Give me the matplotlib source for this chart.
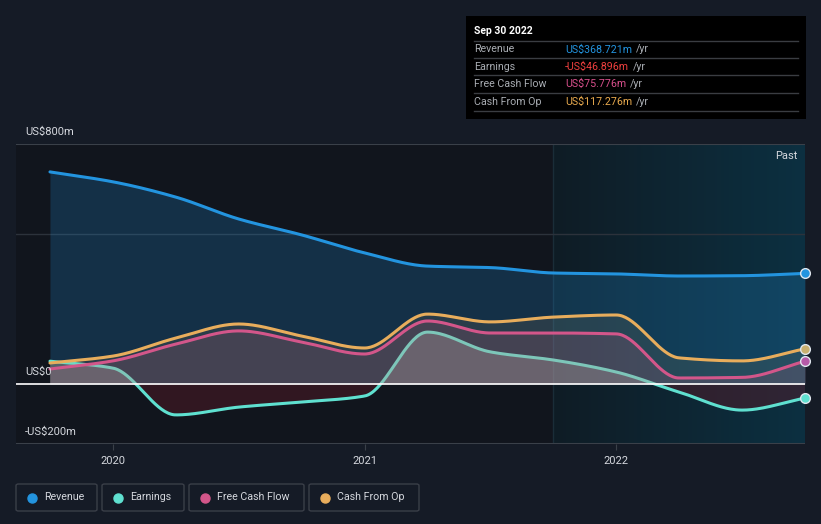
import numpy as np
import matplotlib
matplotlib.use("Agg")
import matplotlib.pyplot as plt
from matplotlib.patches import FancyBboxPatch, Rectangle
from matplotlib.colors import LinearSegmentedColormap

plt.rcParams['font.family'] = ['Roboto', 'DejaVu Sans']

# ---- data (US$m, quarterly, trailing twelve months) ----
dates = [2019.75, 2020.0, 2020.25, 2020.5, 2020.75, 2021.0, 2021.25,
         2021.5, 2021.75, 2022.0, 2022.25, 2022.5, 2022.75]
revenue = [707, 674, 623, 550, 497, 437, 393, 388, 370, 367, 360, 361, 368.721]
earnings = [76, 53, -103, -77, -60, -40, 173, 107, 80, 40, -27, -87, -46.896]
fcf = [50, 77, 133, 177, 140, 100, 210, 170, 170, 167, 20, 22, 75.776]
cfo = [70, 93, 153, 200, 160, 120, 233, 207, 223, 230, 87, 77, 117.276]

year_ticks = [2020, 2021, 2022]
year_labels = ["2020", "2021", "2022"]
past_start = 2021.75

C_REV = "#2394df"
C_EARN = "#5fe0d0"
C_FCF = "#d3568a"
C_CFO = "#e8ad5c"
BG = "#151b26"
PLOT_BG = "#11151d"
TXT = "#d5d8de"


def monotone(x, y, n=40):
    x = np.asarray(x, float); y = np.asarray(y, float)
    h = np.diff(x); d = np.diff(y) / h
    m = np.zeros_like(y)
    for i in range(1, len(y) - 1):
        if d[i - 1] * d[i] <= 0:
            m[i] = 0
        else:
            m[i] = 3 * (h[i - 1] + h[i]) / ((2 * h[i] + h[i - 1]) / d[i - 1] + (h[i] + 2 * h[i - 1]) / d[i])
    m[0] = d[0]; m[-1] = d[-1]
    xs, ys = [], []
    for i in range(len(h)):
        t = np.linspace(0, 1, n, endpoint=(i == len(h) - 1))
        h00 = 2 * t**3 - 3 * t**2 + 1
        h10 = t**3 - 2 * t**2 + t
        h01 = -2 * t**3 + 3 * t**2
        h11 = t**3 - t**2
        xs.append(x[i] + t * h[i])
        ys.append(h00 * y[i] + h10 * h[i] * m[i] + h01 * y[i + 1] + h11 * h[i] * m[i + 1])
    return np.concatenate(xs), np.concatenate(ys)


W, H = 821, 524
fig = plt.figure(figsize=(W / 100, H / 100), dpi=100)
fig.patch.set_facecolor(BG)

L, R, T, B = 16, 805, 144, 444
ax = fig.add_axes([L / W, 1 - B / H, (R - L) / W, (B - T) / H])
ax.set_facecolor(PLOT_BG)
xmin, xmax = 2019.615, 2022.75
ax.set_xlim(xmin, xmax)
ax.set_ylim(-200, 800)

# past region gradient
grad = np.linspace(0, 1, 256).reshape(1, -1)
cmap = LinearSegmentedColormap.from_list("past", ["#0f1c25", "#0c3041"])
ax.imshow(grad, extent=[past_start, xmax, -200, 800], aspect='auto', cmap=cmap, zorder=0.5)
ax.axvline(past_start, color="#1a2d38", lw=1, zorder=0.6)

# gridlines
ax.axhline(500, color="#2c323b", lw=1, zorder=0.7)
ax.axhline(800, color="#3a4049", lw=1.5, zorder=0.7)

for s in ax.spines.values():
    s.set_visible(False)
ax.axhline(-200, color="#3a4049", lw=1.5, zorder=0.7)

# revenue
xr, yr = monotone(dates, revenue)
ax.fill_between(xr, 0, yr, color=C_REV, alpha=0.22, lw=0, zorder=1)
ax.plot(xr, yr, color=C_REV, lw=2.2, zorder=5, solid_capstyle='round')

# earnings
xe, ye = monotone(dates, earnings)
ax.fill_between(xe, 0, ye, where=ye >= 0, interpolate=True, color="#b8c0bc", alpha=0.30, lw=0, zorder=1.2)
ax.fill_between(xe, 0, ye, where=ye <= 0, interpolate=True, color="#5a1a28", alpha=0.45, lw=0, zorder=1.2)
ax.plot(xe, ye, color=C_EARN, lw=2.2, zorder=2, solid_capstyle='round')

# free cash flow
xf, yf = monotone(dates, fcf)
ax.fill_between(xf, 0, yf, color=C_FCF, alpha=0.16, lw=0, zorder=3)
ax.plot(xf, yf, color=C_FCF, lw=2.2, zorder=4, solid_capstyle='round')

# cash from op
xc, yc = monotone(dates, cfo)
ax.fill_between(xc, 0, yc, color=C_CFO, alpha=0.10, lw=0, zorder=3.5)
ax.plot(xc, yc, color=C_CFO, lw=2.2, zorder=4.2, solid_capstyle='round')

ax.axhline(0, color="#ffffff", lw=1.2, zorder=4.5)

# end markers
for series, col in [(revenue, C_REV), (earnings, C_EARN), (fcf, "#b65aa8"), (cfo, "#c9b070")]:
    ax.plot([dates[-1]], [series[-1]], 'o', ms=7, mfc=col, mec="#dfe6ee", mew=1.0,
            zorder=6, clip_on=False)

# ticks
ax.set_xticks(year_ticks)
ax.set_xticklabels(year_labels, color=TXT, fontsize=8)
ax.tick_params(axis='x', length=4, color="#3a4049", pad=5)
ax.set_yticks([])


def ptext(x, y, s, **kw):
    return fig.text(x / W, 1 - y / H, s, **kw)


ptext(25, 132, "US$800m", color=TXT, fontsize=8, va='center')
ptext(25, 372, "US$0", color=TXT, fontsize=8, va='center')
ptext(25, 432, "-US$200m", color=TXT, fontsize=8, va='center')
ptext(797, 156, "Past", color=TXT, fontsize=8, va='center', ha='right')

# tooltip box
fig.patches.append(Rectangle((466 / W, 1 - 119 / H), 340 / W, 103 / H, transform=fig.transFigure,
                             facecolor="#000000", edgecolor="none", zorder=10))
ptext(474, 31, "Sep 30 2022", color="#ffffff", fontsize=7.5, fontweight='bold', va='center', zorder=11)
for yy in [41, 58, 75, 93, 111]:
    fig.add_artist(plt.Line2D([474 / W, 798 / W], [1 - yy / H, 1 - yy / H], color="#3a3d42",
                              lw=1, transform=fig.transFigure, zorder=11))
rows = [("Revenue", "US$368.721m", C_REV),
        ("Earnings", "-US$46.896m", "#f0403f"),
        ("Free Cash Flow", "US$75.776m", "#d8508c"),
        ("Cash From Op", "US$117.276m", "#e8aa4e")]
fig.canvas.draw()
for i, (lab, val, col) in enumerate(rows):
    yy = 49.5 + i * 17.4
    ptext(474, yy, lab, color="#a9adb3", fontsize=7.7, va='center', zorder=11)
    t = ptext(565, yy, val, color=col, fontsize=7.7, va='center', zorder=11)
    bb = t.get_window_extent(renderer=fig.canvas.get_renderer())
    fig.text((bb.x1 + 4) / W, 1 - yy / H, "/yr", color="#a9adb3", fontsize=7.7, va='center', zorder=11)

# legend boxes
legend = [("Revenue", C_REV, 16, 97), ("Earnings", C_EARN, 102, 184),
          ("Free Cash Flow", C_FCF, 189, 304), ("Cash From Op", C_CFO, 309, 419)]
for lab, col, x0, x1 in legend:
    fig.patches.append(FancyBboxPatch((x0 / W, 1 - 511 / H), (x1 - x0) / W, 27 / H,
                                      boxstyle="round,pad=0,rounding_size=0.003",
                                      transform=fig.transFigure, facecolor="none",
                                      edgecolor="#3a3f48", lw=1))
    fig.add_artist(plt.Line2D([(x0 + 16) / W], [1 - 497.5 / H], marker='o', ms=6.5, color=col,
                              lw=0, transform=fig.transFigure))
    ptext(x0 + 28, 497, lab, color=TXT, fontsize=7.7, va='center')

fig.savefig("out.png", dpi=100, facecolor=BG)
